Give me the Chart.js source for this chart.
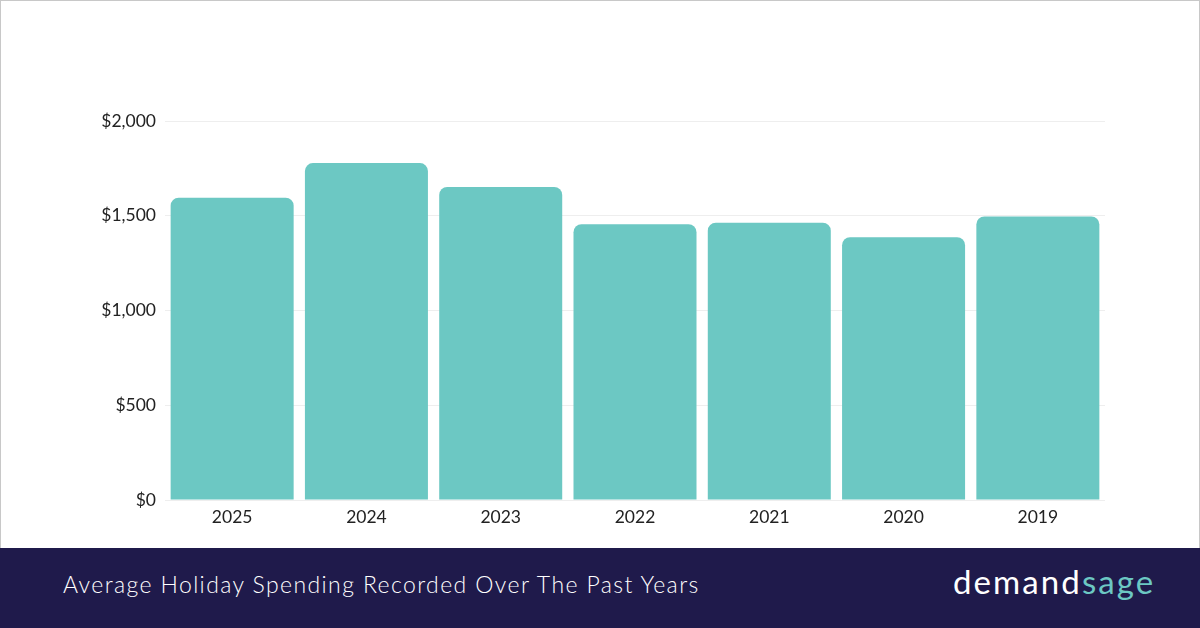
<!DOCTYPE html>
<html>
<head>
<meta charset="utf-8">
<script src="https://cdn.jsdelivr.net/npm/chart.js@4/dist/chart.umd.min.js"></script>
<style>
  html, body { margin: 0; padding: 0; }
  body { width: 1200px; height: 628px; overflow: hidden; background: #fff; position: relative; font-family: 'Lato', sans-serif; }
  #chart { position: absolute; left: 0; top: 0; }
  #frame { position: absolute; left: 0; top: 0; width: 1200px; height: 548px; box-sizing: border-box; border: 1px solid #c8c8c8; border-bottom: none; pointer-events: none; }
  #footer { position: absolute; left: 0; top: 548px; width: 1200px; height: 80px; background: #1f1a4b; }
  #title { position: absolute; left: 63px; top: 570px; color: #fff; font-size: 23px; font-weight: 300; letter-spacing: 1.4px; white-space: nowrap; }
  #logo { position: absolute; left: 953px; top: 561px; font-size: 33px; font-weight: 400; letter-spacing: 2.1px; color: #fff; white-space: nowrap; }
  #logo span { color: #6cc8c3; }
</style>
</head>
<body>
<canvas id="chart" width="1200" height="548"></canvas>
<div id="frame"></div>
<div id="footer"></div>
<div id="title">Average Holiday Spending Recorded Over The Past Years</div>
<div id="logo">demand<span>sage</span></div>
<script>
const years = ['2025', '2024', '2023', '2022', '2021', '2020', '2019'];
const spending = [1595, 1778, 1652, 1455, 1463, 1387, 1496];
const yTicks = [0, 500, 1000, 1500, 2000];

const ctx = document.getElementById('chart').getContext('2d');

const tickFont = { family: 'Lato', size: 17.5 };

new Chart(ctx, {
  type: 'bar',
  data: {
    labels: years,
    datasets: [{
      label: 'Average spending',
      data: spending,
      backgroundColor: '#6cc8c3',
      borderRadius: 8,
      borderSkipped: 'start',
      categoryPercentage: 1,
      barPercentage: 0.916
    }]
  },
  options: {
    responsive: false,
    animation: false,
    layout: { padding: { top: 121, right: 95, bottom: 0, left: 0 } },
    scales: {
      x: {
        grid: { display: false, drawTicks: false },
        border: { display: false },
        ticks: { color: '#222', font: tickFont, padding: 7 },
        afterFit: s => { s.height = 48; }
      },
      y: {
        min: 0,
        max: 2000,
        afterBuildTicks: s => { s.ticks = yTicks.map(v => ({ value: v })); },
        grid: { color: '#eeeeee', drawTicks: false },
        border: { display: false },
        ticks: {
          color: '#222',
          font: tickFont,
          padding: 9,
          callback: v => '$' + v.toLocaleString('en-US')
        },
        afterFit: s => { s.width = 165; }
      }
    },
    plugins: {
      legend: { display: false },
      tooltip: { enabled: false }
    }
  }
});
</script>
</body>
</html>
